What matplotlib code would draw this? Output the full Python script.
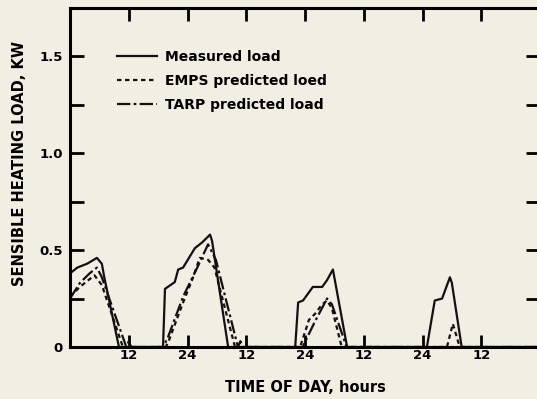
import matplotlib.pyplot as plt

# hours from start of record, load in kW
meas_h = [0, 1.5, 3.5, 5.5, 6.5, 7, 10, 19, 19.4, 21.4, 22.1, 23.1, 25.5, 27, 28.6, 29, 32.3,
          46, 46.6, 47.6, 49.6, 51.5, 52.5, 53.7, 56.6, 72.9, 74.5, 76, 77.6, 78, 80, 96]
meas_v = [0.38, 0.41, 0.43, 0.46, 0.43, 0.36, 0, 0, 0.30, 0.335, 0.40, 0.41, 0.51, 0.54, 0.58, 0.55, 0,
          0, 0.23, 0.24, 0.31, 0.31, 0.345, 0.40, 0, 0, 0.24, 0.25, 0.36, 0.33, 0, 0]

emps_h = [0, 2, 4, 5, 6.5, 10.8, 19.5, 20, 23.1, 25, 26.5, 28.2, 29.5, 33.7,
          47, 48.3, 48.8, 50, 51.5, 52.5, 53.5, 55.5, 77, 78.2, 79.6, 96]
emps_v = [0.26, 0.31, 0.35, 0.37, 0.32, 0, 0, 0.02, 0.23, 0.35, 0.46, 0.45, 0.41, 0,
          0, 0.10, 0.14, 0.17, 0.22, 0.24, 0.20, 0, 0, 0.12, 0, 0]

tarp_h = [0, 2, 4, 5.5, 6.5, 11.5, 12, 12.5, 19, 20, 23.1, 26, 28.2, 29.8, 34.3, 34.8, 35.3,
          47.5, 50, 52.5, 53.5, 56.5, 96]
tarp_v = [0.25, 0.33, 0.38, 0.41, 0.36, 0, 0.03, 0, 0, 0.05, 0.26, 0.41, 0.53, 0.45, 0, 0.03, 0,
          0, 0.13, 0.25, 0.22, 0, 0]

xticks = [12, 24, 36, 48, 60, 72, 84]
xlabels = ['12', '24', '12', '24', '12', '24', '12']

bg = '#f1eee3'
plt.rcParams['font.family'] = ['DejaVu Sans']
plt.rcParams['font.weight'] = 'bold'

fig = plt.figure(figsize=(5.37, 3.99), dpi=100, facecolor=bg)
ax = fig.add_axes([70/537, 1 - 347/399, 470/537, 339/399], facecolor=bg)

ax.plot(meas_h, meas_v, color='#111', lw=1.6, label='Measured load')
ax.plot(emps_h, emps_v, color='#111', lw=1.6, ls=(0, (2, 1.6)), label='EMPS predicted loed')
ax.plot(tarp_h, tarp_v, color='#111', lw=1.6, ls=(0, (6, 1.5, 1.2, 1.5)), label='TARP predicted load')

ax.set_xlim(0, 96)
ax.set_ylim(0, 1.75)
ax.set_xticks(xticks)
ax.set_xticklabels(xlabels)
ax.set_yticks([0, 0.5, 1.0, 1.5])
ax.set_yticklabels(['0', '0.5', '1.0', '1.5'])
ax.set_yticks([0.25, 0.75, 1.25], minor=True)

ax.tick_params(axis='x', direction='in', length=9, width=2, top=True, pad=1.5, labelsize=9.5)
ax.tick_params(axis='y', which='both', direction='in', length=10, width=2, right=True, pad=5, labelsize=9.5)

for s in ax.spines.values():
    s.set_linewidth(2.2)

ax.set_xlabel('TIME OF DAY, hours', fontsize=10.5, fontweight='bold', labelpad=13)
ax.set_ylabel('SENSIBLE HEATING LOAD, KW', fontsize=10.5, fontweight='bold')
ax.yaxis.set_label_coords(-0.092, 0.54)

ax.legend(loc='upper left', bbox_to_anchor=(0.1, 0.877), frameon=False, borderpad=0,
          borderaxespad=0, handlelength=2.9, handletextpad=0.55, labelspacing=0.72,
          prop={'size': 10, 'weight': 'bold'})

fig.savefig('out.png', dpi=100, facecolor=bg)
